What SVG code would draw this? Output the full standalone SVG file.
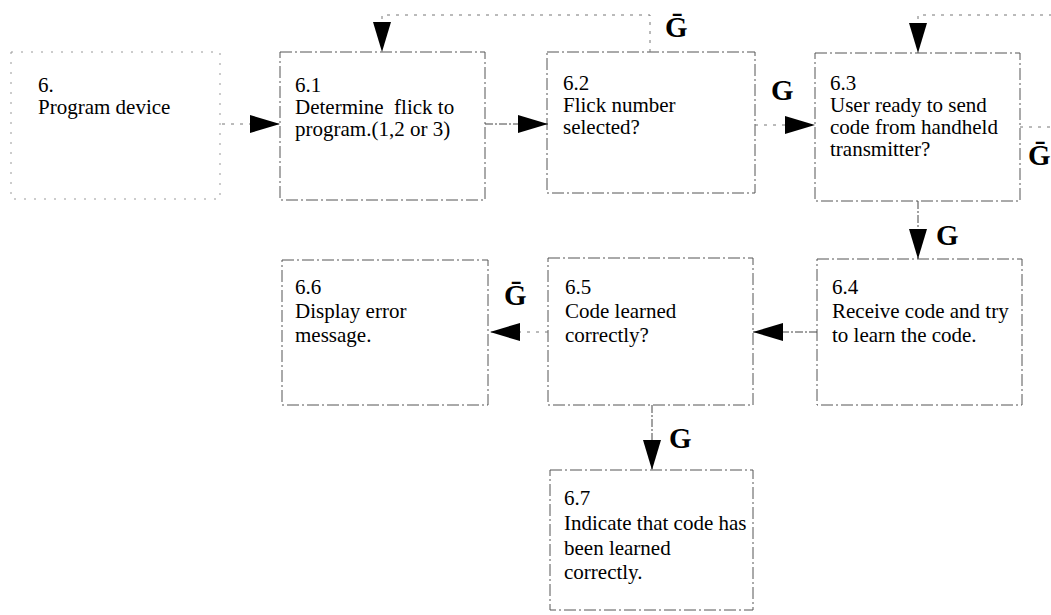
<svg xmlns="http://www.w3.org/2000/svg" width="1051" height="615" viewBox="0 0 1051 615">
<style>
.box{fill:none;stroke:#555;stroke-width:1;stroke-dasharray:12 3 2 3}
.faint{fill:none;stroke:#999;stroke-width:1;stroke-dasharray:2 8}
.t{font-family:"Liberation Serif","Times New Roman",serif;font-size:21px;fill:#000;white-space:pre}
.g{font-family:"Liberation Serif","DejaVu Serif",serif;font-size:29px;font-weight:bold;fill:#000}
.c{fill:none;stroke:#444;stroke-width:1;stroke-dasharray:8 2 2 2}
.cf{fill:none;stroke:#777;stroke-width:1;stroke-dasharray:3 6}
</style>
<defs>
<marker id="ah" markerUnits="userSpaceOnUse" markerWidth="30" markerHeight="18" refX="30" refY="9" orient="auto">
<path d="M0,0 L30,9 L0,18 z" fill="#000"/>
</marker>
</defs>
<rect width="1051" height="615" fill="#fff"/>
<g id="node-6">
<rect class="faint" x="11" y="52" width="209" height="147"/>
<text class="t" x="38" y="92">6.</text>
<text class="t" x="38" y="114">Program device</text>
</g>
<g id="node-6-1">
<rect class="box" x="280" y="52" width="205" height="148"/>
<text class="t" x="295" y="92">6.1</text>
<text class="t" x="295" y="114">Determine  flick to</text>
<text class="t" x="295" y="136">program.(1,2 or 3)</text>
</g>
<g id="node-6-2">
<rect class="box" x="547" y="52" width="208" height="141"/>
<text class="t" x="563" y="90">6.2</text>
<text class="t" x="563" y="112">Flick number</text>
<text class="t" x="563" y="134">selected?</text>
</g>
<g id="node-6-3">
<rect class="box" x="815" y="53" width="205" height="148"/>
<text class="t" x="830" y="90">6.3</text>
<text class="t" x="830" y="112">User ready to send</text>
<text class="t" x="830" y="134">code from handheld</text>
<text class="t" x="830" y="156">transmitter?</text>
</g>
<g id="node-6-4">
<rect class="box" x="817" y="259" width="205" height="146"/>
<text class="t" x="832" y="294">6.4</text>
<text class="t" x="832" y="318">Receive code and try</text>
<text class="t" x="832" y="342">to learn the code.</text>
</g>
<g id="node-6-5">
<rect class="box" x="548" y="258" width="205" height="147"/>
<text class="t" x="565" y="294">6.5</text>
<text class="t" x="565" y="318">Code learned</text>
<text class="t" x="565" y="342">correctly?</text>
</g>
<g id="node-6-6">
<rect class="box" x="282" y="260" width="206" height="145"/>
<text class="t" x="295" y="294">6.6</text>
<text class="t" x="295" y="318">Display error</text>
<text class="t" x="295" y="342">message.</text>
</g>
<g id="node-6-7">
<rect class="box" x="550" y="470" width="203" height="140"/>
<text class="t" x="564" y="505">6.7</text>
<text class="t" x="564" y="530">Indicate that code has</text>
<text class="t" x="564" y="555">been learned</text>
<text class="t" x="564" y="579">correctly.</text>
</g>
<g id="connectors">
<path class="cf" d="M222,124 H280" marker-end="url(#ah)"/>
<path class="c" d="M485,124 H548" marker-end="url(#ah)"/>
<path class="cf" d="M755,125 H815" marker-end="url(#ah)"/>
<path class="cf" d="M650,52 V15 H382 V52" marker-end="url(#ah)"/>
<path class="cf" d="M1020,127 H1070 V15 H918 V53" marker-end="url(#ah)"/>
<path class="c" d="M918,201 V259" marker-end="url(#ah)"/>
<path class="c" d="M817,332 H753" marker-end="url(#ah)"/>
<path class="cf" d="M548,332 H490" marker-end="url(#ah)"/>
<path class="c" d="M652,405 V470" marker-end="url(#ah)"/>
<text class="g" x="771" y="100">G</text>
<text class="g" x="936" y="245">G</text>
<text class="g" x="669" y="448">G</text>
<text class="g" x="665" y="37">Ḡ</text>
<text class="g" x="1028" y="165">Ḡ</text>
<text class="g" x="504" y="305">Ḡ</text>
</g>
</svg>
